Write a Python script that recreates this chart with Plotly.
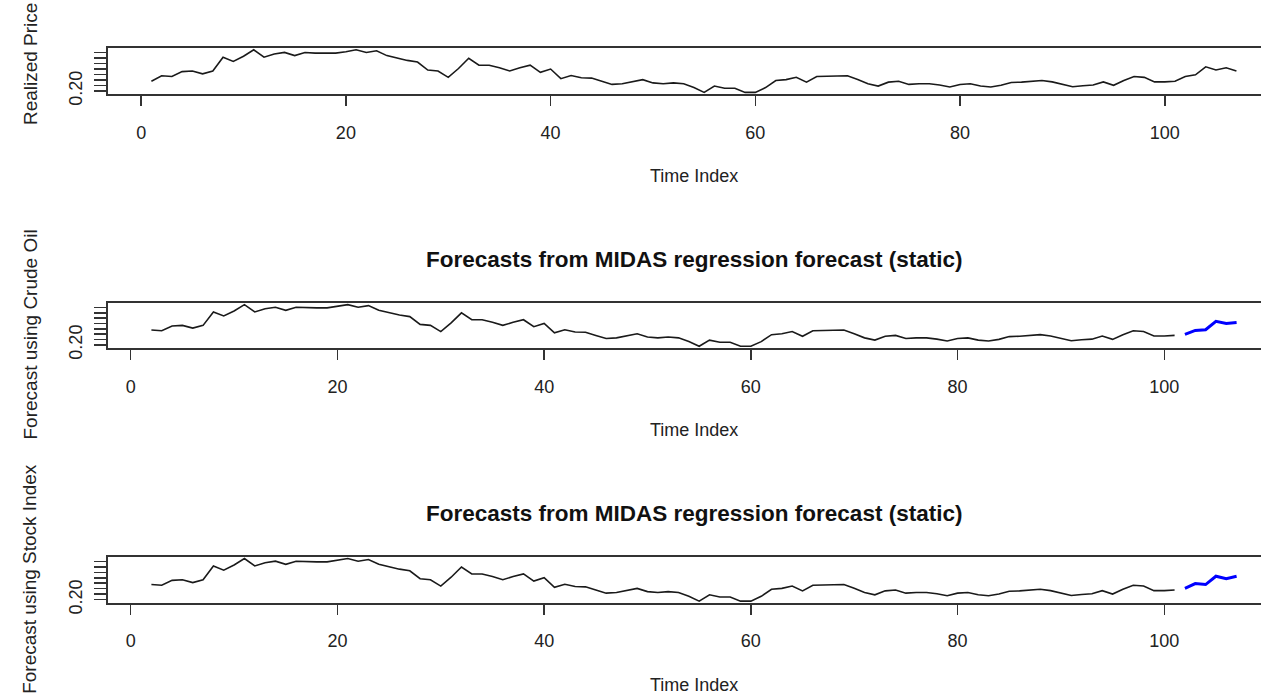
import plotly.graph_objects as go

# ---------------- data ----------------
time_realized = list(range(1, 108))
realized_price = [
    0.288, 0.338, 0.332, 0.376, 0.382, 0.356, 0.382, 0.508, 0.470, 0.517,
    0.576, 0.508, 0.537, 0.552, 0.523, 0.552, 0.546, 0.546, 0.546, 0.558,
    0.576, 0.552, 0.567, 0.523, 0.499, 0.479, 0.464, 0.391, 0.382, 0.324,
    0.405, 0.499, 0.435, 0.435, 0.411, 0.382, 0.411, 0.435, 0.370, 0.400,
    0.312, 0.341, 0.320, 0.317, 0.288, 0.259, 0.265, 0.282, 0.303, 0.273,
    0.265, 0.273, 0.265, 0.230, 0.186, 0.244, 0.224, 0.224, 0.186, 0.186,
    0.230, 0.295, 0.303, 0.324, 0.280, 0.332, 0.332, 0.335, 0.338, 0.303,
    0.265, 0.244, 0.280, 0.288, 0.259, 0.265, 0.265, 0.253, 0.236, 0.259,
    0.265, 0.244, 0.236, 0.251, 0.277, 0.280, 0.288, 0.295, 0.282, 0.259,
    0.238, 0.247, 0.253, 0.282, 0.251, 0.295, 0.332, 0.324, 0.282, 0.282,
    0.288, 0.332, 0.347, 0.420, 0.391, 0.411, 0.382,
]

time_fitted = list(range(2, 102))
crude_fitted = [
    0.338, 0.332, 0.376, 0.382, 0.356, 0.382, 0.508, 0.470, 0.517,
    0.576, 0.508, 0.537, 0.552, 0.523, 0.552, 0.546, 0.546, 0.546, 0.558,
    0.576, 0.552, 0.567, 0.523, 0.499, 0.479, 0.464, 0.391, 0.382, 0.324,
    0.405, 0.499, 0.435, 0.435, 0.411, 0.382, 0.411, 0.435, 0.370, 0.400,
    0.312, 0.341, 0.320, 0.317, 0.288, 0.259, 0.265, 0.282, 0.303, 0.273,
    0.265, 0.273, 0.265, 0.230, 0.186, 0.244, 0.224, 0.224, 0.186, 0.186,
    0.230, 0.295, 0.303, 0.324, 0.280, 0.332, 0.332, 0.335, 0.338, 0.303,
    0.265, 0.244, 0.280, 0.288, 0.259, 0.265, 0.265, 0.253, 0.236, 0.259,
    0.265, 0.244, 0.236, 0.251, 0.277, 0.280, 0.288, 0.295, 0.282, 0.259,
    0.238, 0.247, 0.253, 0.282, 0.251, 0.295, 0.332, 0.324, 0.282, 0.282,
    0.288,
]
stock_fitted = [
    0.338, 0.332, 0.376, 0.382, 0.356, 0.382, 0.508, 0.470, 0.517,
    0.576, 0.508, 0.537, 0.552, 0.523, 0.552, 0.546, 0.546, 0.546, 0.558,
    0.576, 0.552, 0.567, 0.523, 0.499, 0.479, 0.464, 0.391, 0.382, 0.324,
    0.405, 0.499, 0.435, 0.435, 0.411, 0.382, 0.411, 0.435, 0.370, 0.400,
    0.312, 0.341, 0.320, 0.317, 0.288, 0.259, 0.265, 0.282, 0.303, 0.273,
    0.265, 0.273, 0.265, 0.230, 0.186, 0.244, 0.224, 0.224, 0.186, 0.186,
    0.230, 0.295, 0.303, 0.324, 0.280, 0.332, 0.332, 0.335, 0.338, 0.303,
    0.265, 0.244, 0.280, 0.288, 0.259, 0.265, 0.265, 0.253, 0.236, 0.259,
    0.265, 0.244, 0.236, 0.251, 0.277, 0.280, 0.288, 0.295, 0.282, 0.259,
    0.238, 0.247, 0.253, 0.282, 0.251, 0.295, 0.332, 0.324, 0.282, 0.282,
    0.288,
]

time_forecast = [102, 103, 104, 105, 106, 107]
crude_forecast = [0.297, 0.335, 0.341, 0.420, 0.400, 0.409]
stock_forecast = [0.303, 0.347, 0.338, 0.414, 0.391, 0.414]

x_tick_vals = [0, 20, 40, 60, 80, 100]
y_tick_vals = [0.20, 0.25, 0.30, 0.35, 0.40, 0.45, 0.50, 0.55]
y_tick_text = ["0.20", "", "", "", "", "", "", ""]

panel_ylabels = ["Realized Price", "Forecast using Crude Oil", "Forecast using Stock Index"]
panel_titles = [None, "Forecasts from MIDAS regression forecast (static)",
                "Forecasts from MIDAS regression forecast (static)"]
x_title = "Time Index"

# ---------------- layout geometry (pixels) ----------------
W, H = 1261, 694
K = 694 / 681          # vertical correction observed between intended and rendered positions
FONT = "Liberation Sans, Arial, Helvetica, sans-serif"
box_left = 108
boxes = [(48, 94), (302.5, 347.5), (556, 602)]          # top / bottom pixel of each box
x_ranges = [[-3.24, 109.4], [-2.2, 109.36], [-2.2, 109.36]]
y_range = [0.170, 0.592]
ylab_centers = [64, 334, 578]
text_col = "#222222"

def py(p):
    return 1 - (p * K) / H

fig = go.Figure()

line_black = dict(color="#1a1a1a", width=1.6)
line_blue = dict(color="#0000ff", width=3)

fig.add_trace(go.Scatter(x=time_realized, y=realized_price, mode="lines",
                         line=line_black, xaxis="x", yaxis="y", showlegend=False))
fig.add_trace(go.Scatter(x=time_fitted, y=crude_fitted, mode="lines",
                         line=line_black, xaxis="x2", yaxis="y2", showlegend=False))
fig.add_trace(go.Scatter(x=time_forecast, y=crude_forecast, mode="lines",
                         line=line_blue, xaxis="x2", yaxis="y2", showlegend=False))
fig.add_trace(go.Scatter(x=time_fitted, y=stock_fitted, mode="lines",
                         line=line_black, xaxis="x3", yaxis="y3", showlegend=False))
fig.add_trace(go.Scatter(x=time_forecast, y=stock_forecast, mode="lines",
                         line=line_blue, xaxis="x3", yaxis="y3", showlegend=False))

axis_col = "#333333"
layout = dict(
    width=W, height=H, autosize=False,
    margin=dict(l=0, r=0, t=0, b=0, pad=0),
    paper_bgcolor="white", plot_bgcolor="white",
    font=dict(family=FONT, size=18, color=text_col),
    showlegend=False,
)
annotations = []
for i, (top, bot) in enumerate(boxes):
    sx = "" if i == 0 else str(i + 1)
    layout["xaxis" + sx] = dict(
        domain=[box_left / W, 1], range=x_ranges[i], anchor="y" + sx,
        showline=True, linecolor=axis_col, linewidth=2, mirror=True,
        ticks="outside", ticklen=10, tickwidth=1.5, tickcolor=axis_col,
        tickvals=x_tick_vals, ticktext=[str(v) for v in x_tick_vals],
        tickfont=dict(size=18, family=FONT, color=text_col),
        ticklabelstandoff=11,
        showgrid=False, zeroline=False, fixedrange=True,
    )
    layout["yaxis" + sx] = dict(
        domain=[py(bot), py(top)], range=y_range, anchor="x" + sx,
        showline=True, linecolor=axis_col, linewidth=2, mirror=False,
        ticks="outside", ticklen=12, tickwidth=1.5, tickcolor=axis_col,
        tickvals=y_tick_vals, ticktext=y_tick_text, tickangle=-90,
        tickfont=dict(size=18, family=FONT, color=text_col),
        ticklabelstandoff=5,
        showgrid=False, zeroline=False, fixedrange=True,
    )
    # x title
    annotations.append(dict(text=x_title, xref="paper", yref="paper",
                            x=694 / W, y=py(bot + 82), xanchor="center", yanchor="middle",
                            showarrow=False, font=dict(size=18, family=FONT, color=text_col)))
    # y title
    annotations.append(dict(text=panel_ylabels[i], xref="paper", yref="paper",
                            x=30 / W, y=py(ylab_centers[i]), xanchor="center", yanchor="middle",
                            textangle=-90, showarrow=False,
                            font=dict(size=19, family=FONT, color=text_col)))
    if panel_titles[i]:
        annotations.append(dict(text="<b>" + panel_titles[i] + "</b>", xref="paper", yref="paper",
                                x=694 / W, y=py(top - 43), xanchor="center", yanchor="middle",
                                showarrow=False, font=dict(size=22.5, family=FONT, color="#111111")))
layout["annotations"] = annotations
fig.update_layout(**layout)

fig.write_html(
    "out.html",
    config={"displayModeBar": False, "staticPlot": True, "responsive": False},
    post_script="document.body.style.margin='0';document.body.style.overflow='hidden';",
)
